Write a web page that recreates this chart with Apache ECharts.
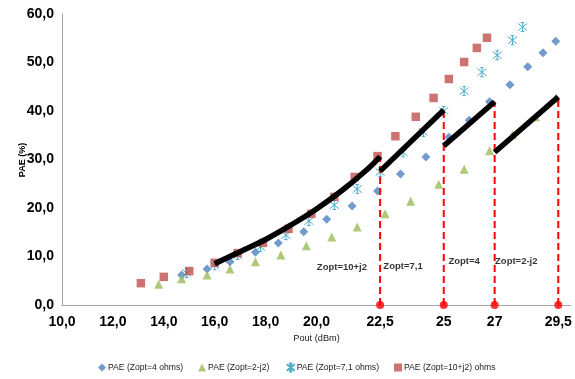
<!DOCTYPE html>
<html>
<head>
<meta charset="utf-8">
<script src="https://cdn.jsdelivr.net/npm/echarts@6/dist/echarts.min.js"></script>
<style>
html,body{margin:0;padding:0;background:#fff;}
#chart{width:575px;height:379px;}
</style>
</head>
<body>
<div id="chart"></div>
<script>
// ---- Data ----
const seriesNames = ['PAE (Zopt=4 ohms)', 'PAE (Zopt=2-j2)', 'PAE (Zopt=7,1 ohms)', 'PAE (Zopt=10+j2) ohms'];

const zopt4X = [14.7,15.7,16.6,17.6,18.5,19.5,20.4,21.4,22.4,23.3,24.3,25.2,26.0,26.8,27.6,28.3,28.9,29.4];
const zopt4Y = [6.2,7.4,8.9,10.9,12.8,15.1,17.7,20.4,23.5,27.0,30.5,34.6,38.1,41.9,45.4,49.1,52.0,54.4];

const zopt2j2X = [13.8,14.7,15.7,16.6,17.6,18.6,19.6,20.6,21.6,22.7,23.7,24.8,25.8,26.8,27.7,28.6,29.4];
const zopt2j2Y = [4.3,5.4,6.2,7.4,8.9,10.3,12.2,14.0,16.1,18.8,21.4,24.9,28.0,31.8,35.1,38.8,42.7];

const zopt71X = [14.9,16.0,16.9,17.8,18.8,19.7,20.7,21.6,22.5,23.4,24.2,25.0,25.8,26.5,27.1,27.7,28.1];
const zopt71Y = [6.6,8.2,10.3,12.0,14.4,17.3,20.6,23.9,27.4,31.5,35.7,40.0,44.1,48.0,51.5,54.6,57.3];

const zopt10j2X = [13.1,14.0,15.0,16.0,16.9,17.9,18.9,19.8,20.7,21.5,22.4,23.1,23.9,24.6,25.2,25.8,26.3,26.7];
const zopt10j2Y = [4.5,5.8,7.0,8.7,10.7,12.8,15.7,18.8,22.3,26.4,30.7,34.8,38.8,42.7,46.6,50.1,53.0,55.1];

// black envelope segments
const env1X = [16.0,17.0,18.0,19.0,20.0,21.0,22.0,22.5];
const env1Y = [8.5,11.0,13.5,16.5,19.8,23.6,28.0,30.6];
const env2X = [22.5,25.0]; const env2Y = [27.6,40.2];
const env3X = [25.0,27.0]; const env3Y = [32.8,41.9];
const env4X = [27.0,29.5]; const env4Y = [31.5,42.9];

// red dashed switching lines
const switchX = [22.5,25,27,29.5];
const switchTop = [30.6,40.2,41.9,42.9];

// annotations
const annText = ['Zopt=10+j2','Zopt=7,1','Zopt=4','Zopt=2-j2'];
const annX = [21.0,23.4,25.8,27.85];
const annY = [7.8,8.0,8.9,8.9];

// tick labels
const xTickValues = [10,12,14,16,18,20,22.5,25,27,29.5];
const xTickLabels = ['10,0','12,0','14,0','16,0','18,0','20,0','22,5','25','27','29,5'];
const yTickValues = [0,10,20,30,40,50,60];
const yTickLabels = ['0,0','10,0','20,0','30,0','40,0','50,0','60,0'];
const xAxisTitle = 'Pout (dBm)';
const yAxisTitle = 'PAE (%)';

// ---- Build ----
const zip = (xs, ys) => xs.map((x, i) => [x, ys[i]]);
const AST = 'path://M3,0L7,0M5,0L5,10M3,10L7,10M0,1L10,9M10,1L0,9';
const font = 'Liberation Sans, Arial, sans-serif';

const series = [
  {name: seriesNames[0], type:'scatter', symbol:'diamond', symbolSize:9, data: zip(zopt4X, zopt4Y), itemStyle:{color:'#4F81BD'}, z:2},
  {name: seriesNames[1], type:'scatter', symbol:'triangle', symbolSize:9, data: zip(zopt2j2X, zopt2j2Y), itemStyle:{color:'#9BBB59'}, z:2},
  {name: seriesNames[2], type:'scatter', symbol:AST, symbolSize:[9,9], data: zip(zopt71X, zopt71Y), itemStyle:{color:'none', borderColor:'#4BACC6', borderWidth:1, opacity:1}, z:2},
  {name: seriesNames[3], type:'scatter', symbol:'rect', symbolSize:8.5, data: zip(zopt10j2X, zopt10j2Y), itemStyle:{color:'#C0504D'}, z:2}
];

[[env1X, env1Y, true],[env2X, env2Y, false],[env3X, env3Y, false],[env4X, env4Y, false]].forEach(([xs, ys, sm]) => {
  series.push({type:'line', data: zip(xs, ys), smooth: sm ? 0.4 : false, symbol:'none', lineStyle:{color:'#000', width:5.5}, z:4, silent:true});
});

switchX.forEach((x, i) => {
  series.push({type:'line', data: [[x,0],[x,switchTop[i]]], symbol:'none', lineStyle:{color:'#FF0000', width:2, type:[7,4]}, z:3, silent:true});
});

series.push({type:'scatter', data: switchX.map(x => [x, 0]), symbol:'circle', symbolSize:8, itemStyle:{color:'#FF0000'}, z:5, clip:false, silent:true});

series.push({
  type:'scatter', symbolSize:0, silent:true, z:6,
  data: annText.map((t, i) => ({name:t, value:[annX[i], annY[i]]})),
  label:{show:true, position:'inside', formatter: p => p.name, fontFamily: font, fontWeight:'bold', fontSize:9.5, color:'#000'}
});

const chart = echarts.init(document.getElementById('chart'), null, {renderer:'canvas'});
chart.setOption({
  animation:false,
  backgroundColor:'#fff',
  grid:{left:62, right:4, top:14, bottom:74, containLabel:false},
  legend:{
    data: seriesNames, bottom:0, left:93, itemWidth:8, itemHeight:8, itemGap:15,
    textStyle:{fontFamily:font, fontSize:8.6, color:'#222', padding:[0,0,0,-3]}
  },
  graphic:[{
    type:'text', x:23, y:160, rotation:Math.PI/2,
    style:{text:yAxisTitle, fontFamily:font, fontSize:9, fontWeight:'bold', fill:'#000', textAlign:'center', textVerticalAlign:'middle'}
  }],
  xAxis:{
    type:'value', min:10, max:30, interval:0.5,
    name:xAxisTitle, nameLocation:'middle', nameGap:29,
    nameTextStyle:{fontFamily:font, fontSize:9.2, color:'#222'},
    axisLine:{show:true, onZero:false, lineStyle:{color:'#A6A6A6', width:1}},
    axisTick:{show:false}, splitLine:{show:false},
    axisLabel:{
      margin:10, fontFamily:font, fontWeight:'bold', fontSize:14, color:'#000',
      formatter: v => { const i = xTickValues.findIndex(t => Math.abs(t - v) < 1e-6); return i >= 0 ? xTickLabels[i] : ''; }
    }
  },
  yAxis:{
    type:'value', min:0, max:60, interval:10,
    axisLine:{show:true, lineStyle:{color:'#A6A6A6', width:1}},
    axisTick:{show:false}, splitLine:{show:false},
    axisLabel:{
      margin:8, fontFamily:font, fontWeight:'bold', fontSize:14, color:'#000',
      formatter: v => { const i = yTickValues.indexOf(v); return i >= 0 ? yTickLabels[i] : ''; }
    }
  },
  series: series
});
</script>
</body>
</html>
